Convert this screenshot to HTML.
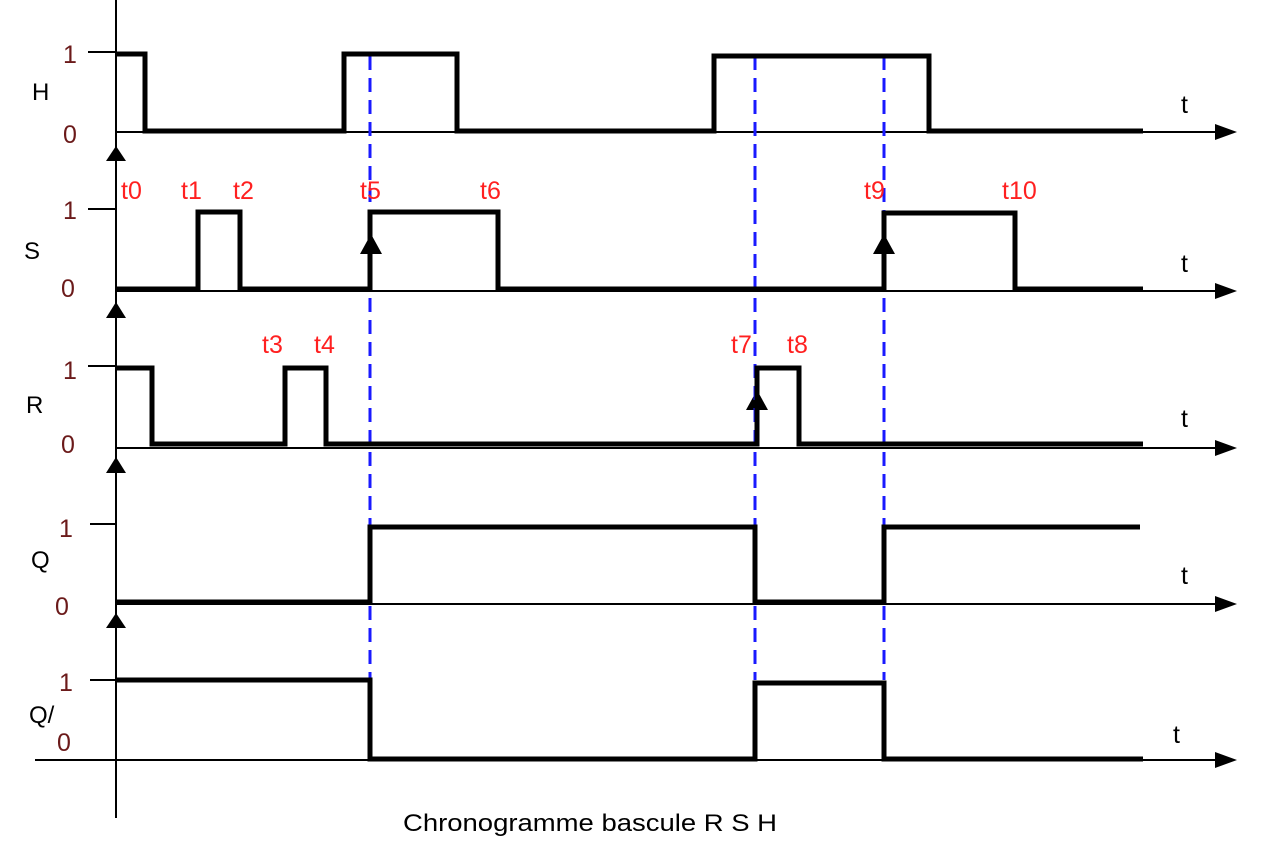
<!DOCTYPE html>
<html><head><meta charset="utf-8"><style>
html,body{margin:0;padding:0;background:#fff;}
svg{display:block;}
text{font-family:"Liberation Sans",sans-serif;}
</style></head><body>
<svg width="1281" height="852" viewBox="0 0 1281 852" xmlns="http://www.w3.org/2000/svg">
<line x1="116" y1="0" x2="116" y2="818" stroke="#000" stroke-width="2"/>
<g fill="#000">
<polygon points="116,146 106,161 126,161"/>
<polygon points="116,302 106,318 126,318"/>
<polygon points="116,457 106,473 126,473"/>
<polygon points="116,613 106,628 126,628"/>
<polygon points="371,234 360,254 382,254"/>
<polygon points="884,234 873,254 895,254"/>
<polygon points="757,390 746,410 768,410"/>
<polygon points="1237,132 1215,124 1215,140"/>
<polygon points="1237,291 1215,283 1215,299"/>
<polygon points="1237,448 1215,440 1215,456"/>
<polygon points="1237,604 1215,596 1215,612"/>
<polygon points="1237,760 1215,752 1215,768"/>
</g>
<g stroke="#000" stroke-width="2">
<line x1="116" y1="132" x2="1220" y2="132"/>
<line x1="116" y1="291" x2="1220" y2="291"/>
<line x1="116" y1="448" x2="1220" y2="448"/>
<line x1="116" y1="604" x2="1220" y2="604"/>
<line x1="35" y1="760" x2="1220" y2="760"/>
<line x1="88" y1="52" x2="116" y2="52"/>
<line x1="88" y1="209" x2="116" y2="209"/>
<line x1="88" y1="366" x2="116" y2="366"/>
<line x1="90" y1="524" x2="116" y2="524"/>
<line x1="90" y1="680" x2="116" y2="680"/>
</g>
<g stroke="#1a1aff" stroke-width="3" stroke-dasharray="14,8">
<line x1="370" y1="56" x2="370" y2="680"/>
<line x1="755" y1="56" x2="755" y2="680"/>
<line x1="884" y1="56" x2="884" y2="680"/>
</g>
<g fill="none" stroke="#000" stroke-width="5" stroke-linejoin="miter">
<polyline points="116,54 145,54 145,131 344,131 344,54 457,54 457,131 714,131 714,56 929,56 929,131 1143,131"/>
<polyline points="116,289 198,289 198,212 240,212 240,289 370,289 370,212 498,212 498,289 884,289 884,213 1015,213 1015,289 1143,289"/>
<polyline points="116,368 152,368 152,444 285,444 285,368 326,368 326,444 757,444 757,368 799,368 799,444 1143,444"/>
<polyline points="116,602 370,602 370,527 755,527 755,602 884,602 884,527 1140,527"/>
<polyline points="116,680 370,680 370,759 755,759 755,683 884,683 884,759 1143,759"/>
</g>
<g font-size="24" fill="#000">
<text x="32" y="100">H</text>
<text x="24" y="259">S</text>
<text x="26" y="413">R</text>
<text x="31" y="568">Q</text>
<text x="29" y="723">Q/</text>
</g>
<g font-size="25" fill="#6b1a1a">
<text x="63" y="63">1</text><text x="63" y="143">0</text>
<text x="63" y="219">1</text><text x="61" y="297">0</text>
<text x="63" y="379">1</text><text x="61" y="453">0</text>
<text x="59" y="537">1</text><text x="55" y="615">0</text>
<text x="59" y="691">1</text><text x="57" y="751">0</text>
</g>
<g font-size="25" fill="#000">
<text x="1181" y="113">t</text>
<text x="1181" y="272">t</text>
<text x="1181" y="427">t</text>
<text x="1181" y="584">t</text>
<text x="1173" y="743">t</text>
</g>
<g font-size="25" fill="#ff2020">
<text x="121" y="199">t0</text>
<text x="181" y="199">t1</text>
<text x="233" y="199">t2</text>
<text x="360" y="199">t5</text>
<text x="480" y="199">t6</text>
<text x="864" y="199">t9</text>
<text x="1002" y="199">t10</text>
<text x="262" y="353">t3</text>
<text x="314" y="353">t4</text>
<text x="731" y="353">t7</text>
<text x="787" y="353">t8</text>
</g>
<text x="403" y="831" font-size="24" fill="#000" textLength="374" lengthAdjust="spacingAndGlyphs">Chronogramme bascule R S H</text>
</svg>
</body></html>
